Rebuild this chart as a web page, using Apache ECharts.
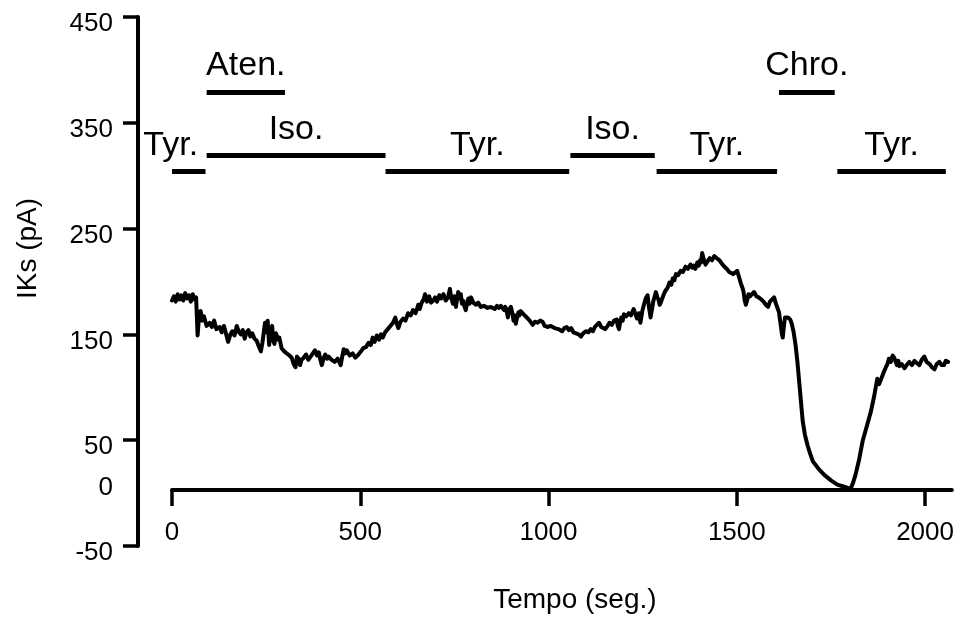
<!DOCTYPE html>
<html>
<head>
<meta charset="utf-8">
<script src="https://cdn.jsdelivr.net/npm/echarts@6/dist/echarts.min.js"></script>
<style>
  html, body { margin: 0; padding: 0; background: #ffffff; }
  #chart { width: 957px; height: 619px; }
</style>
</head>
<body>
<div id="chart"></div>
<script>
// IKs current trace over time (seconds, pA)
const timeSec = [
  0,5,10,15,20,25,30,35,40,45,
  50,55,60,64,68,72,76,80,85,92,
  100,106,112,118,127,132,138,144,149,155,
  160,166,172,178,183,188,193,198,203,208,
  213,219,225,230,236,240,243,247,250,254,
  258,262,266,269,272,276,279,282,285,291,
  298,305,312,318,323,328,332,336,340,344,
  350,356,362,368,374,380,385,390,394,398,
  403,407,412,416,424,432,440,448,452,456,
  460,464,472,480,487,495,502,508,515,522,
  528,533,538,544,550,555,560,566,573,580,
  587,593,597,601,607,614,620,627,634,640,
  647,654,658,663,668,672,677,683,688,694,
  699,704,710,715,721,727,733,738,742,746,
  750,754,757,760,764,767,770,773,777,780,
  784,787,790,794,800,807,813,820,829,838,
  847,857,863,868,873,878,882,885,889,892,
  896,900,904,907,910,913,917,920,923,926,
  934,942,950,958,964,971,978,984,990,997,
  1006,1016,1026,1036,1042,1048,1054,1060,1066,1073,
  1080,1086,1092,1099,1106,1112,1118,1123,1128,1134,
  1140,1145,1150,1155,1162,1168,1174,1181,1184,1187,
  1190,1193,1197,1200,1206,1213,1219,1226,1230,1235,
  1240,1244,1249,1254,1258,1263,1267,1271,1275,1278,
  1282,1285,1289,1292,1295,1298,1304,1310,1316,1321,
  1326,1330,1334,1338,1344,1351,1357,1364,1370,1377,
  1382,1386,1390,1395,1399,1402,1405,1408,1412,1417,
  1422,1428,1434,1440,1447,1454,1460,1467,1473,1480,
  1485,1490,1495,1501,1506,1511,1515,1518,1521,1524,
  1528,1531,1535,1540,1546,1552,1558,1565,1571,1577,
  1583,1588,1593,1599,1603,1606,1609,1612,1615,1617,
  1620,1622,1625,1628,1632,1636,1642,1646,1651,1656,
  1661,1665,1669,1675,1681,1688,1695,1702,1717,1733,
  1750,1767,1785,1802,1808,1815,1825,1834,1845,1856,
  1865,1873,1878,1883,1891,1896,1900,1904,1909,1914,
  1918,1922,1925,1929,1932,1938,1945,1951,1958,1965,
  1972,1978,1985,1991,1998,2004,2012,2018,2025,2031,
  2038,2044,2050,2055,2061
];
const iksPA = [
  182,186,181,188,183,187,182,189,184,187,
  181,188,183,185,149,168,172,163,167,158,
  161,157,163,155,157,152,158,150,143,150,
  153,149,158,152,150,154,146,152,154,148,
  151,146,144,139,134,142,150,161,152,163,
  140,155,158,144,141,151,150,145,147,137,
  134,132,130,128,122,119,129,127,121,126,
  128,131,126,129,132,135,130,133,126,121,
  128,131,127,129,126,124,127,121,129,136,
  132,135,130,132,128,131,134,137,138,142,
  140,147,143,149,145,150,147,152,155,158,
  161,166,160,156,162,165,163,170,168,173,
  170,178,174,180,183,188,181,186,180,182,
  185,181,187,184,188,182,185,193,184,179,
  186,176,183,190,184,188,179,182,176,173,
  180,184,179,185,180,178,180,176,177,175,
  176,174,177,175,177,176,173,176,172,166,
  174,176,170,163,168,160,167,171,168,172,
  169,166,163,159,162,161,163,162,158,157,
  158,156,155,153,156,157,154,156,152,151,
  150,148,151,153,152,155,153,157,159,161,
  157,158,155,157,161,159,163,164,158,155,
  161,166,163,169,167,170,168,174,170,165,
  170,161,172,179,184,187,175,166,174,181,
  186,190,185,183,178,180,186,191,194,199,
  197,203,201,207,206,210,209,214,212,216,
  213,215,212,218,215,220,218,227,221,216,
  219,222,220,224,222,220,217,214,212,209,
  210,207,206,210,204,198,194,190,182,178,
  183,188,186,188,190,186,185,183,181,178,
  176,181,180,185,180,177,174,171,163,158,
  150,147,158,166,167,166,164,160,152,140,
  124,108,92,68,55,45,37,30,23,17,
  12,8,6,4,9,17,32,49,63,77,
  92,108,103,104,115,119,122,127,124,130,
  128,124,121,125,120,122,118,121,124,121,
  125,123,121,126,129,124,122,119,117,122,
  124,121,121,125,124
];

// Axis ticks and labels
const xTickValues = [0, 500, 1000, 1500, 2000];
const yTickValues = [-50, 50, 150, 250, 350, 450];
const yLabelValues = [-50, 0, 50, 150, 250, 350, 450];

// Drug application periods (start, end in seconds; bar level in pA)
const stageNames = ['Tyr.', 'Aten.', 'Iso.', 'Tyr.', 'Iso.', 'Tyr.', 'Chro.', 'Tyr.'];
const stageStart = [0, 92, 92, 567, 1058, 1287, 1612, 1767];
const stageEnd = [89, 300, 567, 1055, 1282, 1607, 1760, 2055];
const stageLevel = [304, 379, 319, 304, 319, 304, 379, 304];

const FONT = '"Liberation Sans", Arial, sans-serif';
const INK = '#000000';

const tracePoints = timeSec.map((t, i) => [t, iksPA[i]]);

const stageBars = stageNames.map((name, i) => ({
  name: name,
  coords: [[stageStart[i], stageLevel[i]], [stageEnd[i], stageLevel[i]]]
}));

const stageLabels = stageNames.map((name, i) => {
  const item = { name: name, value: [(stageStart[i] + stageEnd[i]) / 2, stageLevel[i]] };
  // the first label sits partly over the value axis
  if (i === 0) item.label = { offset: [-18, -26] };
  return item;
});

const chart = echarts.init(document.getElementById('chart'), null, { renderer: 'canvas' });

chart.setOption({
  animation: false,
  backgroundColor: '#ffffff',
  grid: { left: 172, right: 0, top: 17, bottom: 71, containLabel: false },
  xAxis: {
    type: 'value',
    min: 0,
    max: 2071,
    position: 'bottom',
    offset: -56,
    name: 'Tempo (seg.)',
    nameLocation: 'middle',
    nameGap: 96,
    nameTextStyle: { fontFamily: FONT, fontSize: 28, color: INK, padding: [0, 0, 0, 26] },
    axisLine: { onZero: false, lineStyle: { color: INK, width: 4 } },
    axisTick: { show: true, customValues: xTickValues, length: 16, lineStyle: { color: INK, width: 3.5 } },
    axisLabel: {
      customValues: xTickValues,
      margin: 30,
      fontFamily: FONT,
      fontSize: 26,
      color: INK,
      formatter: v => String(v)
    },
    splitLine: { show: false }
  },
  yAxis: {
    type: 'value',
    min: -50,
    max: 450,
    offset: 34,
    name: 'IKs (pA)',
    nameLocation: 'middle',
    nameRotate: 90,
    nameGap: 96,
    nameTextStyle: { fontFamily: FONT, fontSize: 28, color: INK, padding: [0, 0, 0, 66] },
    axisLine: { onZero: false, lineStyle: { color: INK, width: 4 } },
    axisTick: { show: true, customValues: yTickValues, length: 15, lineStyle: { color: INK, width: 3.5 } },
    axisLabel: {
      customValues: yLabelValues,
      margin: 25,
      fontFamily: FONT,
      fontSize: 26,
      color: INK,
      formatter: v => (v === 0 ? '{z|0}' : '{a|' + v + '}'),
      rich: {
        a: { fontFamily: FONT, fontSize: 26, color: INK, padding: [14, 0, 0, 0] },
        z: { fontFamily: FONT, fontSize: 26, color: INK, padding: [0, 0, 10, 0] }
      }
    },
    splitLine: { show: false }
  },
  series: [
    {
      type: 'line',
      data: tracePoints,
      showSymbol: false,
      symbol: 'none',
      clip: false,
      lineStyle: { color: INK, width: 4, join: 'round', cap: 'round' },
      z: 3
    },
    {
      type: 'lines',
      coordinateSystem: 'cartesian2d',
      data: stageBars,
      clip: false,
      silent: true,
      lineStyle: { color: INK, width: 5, opacity: 1, curveness: 0 },
      z: 2
    },
    {
      type: 'scatter',
      data: stageLabels,
      symbolSize: 0,
      clip: false,
      silent: true,
      itemStyle: { color: INK, opacity: 1 },
      label: {
        show: true,
        position: 'inside',
        offset: [0, -26],
        formatter: p => p.name,
        fontFamily: FONT,
        fontSize: 34,
        color: INK,
        opacity: 1,
        textBorderWidth: 0,
        textBorderColor: 'transparent'
      },
      z: 4
    }
  ]
});
</script>
</body>
</html>
